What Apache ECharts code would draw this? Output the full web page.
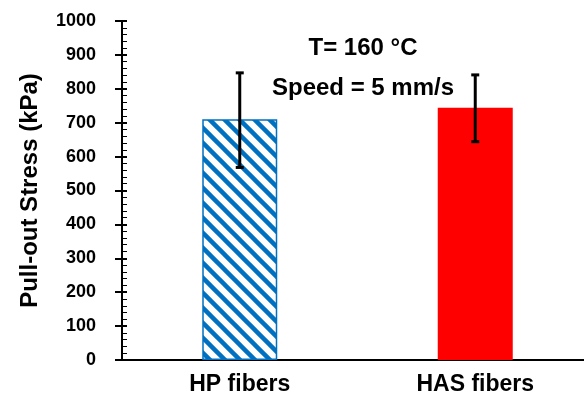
<!DOCTYPE html>
<html>
<head>
<meta charset="utf-8">
<script src="https://cdn.jsdelivr.net/npm/echarts@6/dist/echarts.min.js"></script>
<style>
  html, body { margin: 0; padding: 0; background: #fff; }
  #chart { width: 584px; height: 403px; }
</style>
</head>
<body>
<div id="chart"></div>
<script>
// data
const categories = ["HP fibers", "HAS fibers"];
const stressValues = [710, 744];
const errLow = [568, 644];
const errHigh = [847, 841];
const yTicks = [0, 1000, 100];
const noteLines = ["T= 160 °C", "Speed = 5 mm/s"];

const FONT = "'Liberation Sans', Arial, sans-serif";
const BLUE = "#0070C0";

// hatch for the HP bar (wide downward diagonal)
function makeHatch() {
  const c = document.createElement("canvas");
  c.width = 15;
  c.height = 15;
  const ctx = c.getContext("2d");
  ctx.fillStyle = "#fff";
  ctx.fillRect(0, 0, 15, 15);
  ctx.strokeStyle = BLUE;
  ctx.lineWidth = 4.5;
  for (let k = -1; k <= 1; k++) {
    ctx.beginPath();
    ctx.moveTo(k * 15 - 5, -5);
    ctx.lineTo(k * 15 + 20, 20);
    ctx.stroke();
  }
  return c;
}

const barData = stressValues.map(function (v, i) {
  if (i === 0) {
    return {
      value: v,
      itemStyle: {
        color: { image: makeHatch(), repeat: "repeat" },
        borderColor: BLUE,
        borderWidth: 1.5,
      },
    };
  }
  return { value: v, itemStyle: { color: "#FF0000" } };
});

const errData = categories.map(function (c, i) {
  return [i, errLow[i], errHigh[i]];
});

const myChart = echarts.init(document.getElementById("chart"));

let option = {
  backgroundColor: "#fff",
  animation: false,
  grid: { left: 122, width: 471, top: 21, bottom: 43, outerBoundsMode: "none", containLabel: false },
  xAxis: [
    {
      type: "category",
      data: categories,
      position: "bottom",
      axisLine: { lineStyle: { color: "#000", width: 2 } },
      axisTick: { alignWithLabel: true, length: 5, lineStyle: { color: "#000", width: 2 } },
      axisLabel: { color: "#000", fontFamily: FONT, fontWeight: "bold", fontSize: 23, margin: 13 },
    },
    {
      type: "category",
      data: categories,
      position: "top",
      axisLine: { lineStyle: { color: "#000", width: 2 } },
      axisTick: { show: false },
      axisLabel: { show: false },
    },
  ],
  yAxis: [
    {
      type: "value",
      min: yTicks[0],
      max: yTicks[1],
      interval: yTicks[2],
      name: "Pull-out Stress (kPa)",
      nameLocation: "middle",
      nameGap: 80,
      nameTextStyle: { color: "#000", fontFamily: FONT, fontWeight: "bold", fontSize: 24 },
      axisLine: { show: true, lineStyle: { color: "#000", width: 2 } },
      axisTick: { show: true, inside: false, length: 7, lineStyle: { color: "#000", width: 2 } },
      axisLabel: {
        color: "#000", fontFamily: FONT, fontWeight: "bold", fontSize: 18, margin: 26,
        formatter: function (v) { return String(v); },
      },
      splitLine: { show: false },
    },
    {
      type: "value",
      min: yTicks[0],
      max: yTicks[1],
      interval: yTicks[2],
      position: "left",
      axisLine: { show: true, lineStyle: { color: "#000", width: 2 } },
      axisTick: { show: true, inside: true, length: 5, lineStyle: { color: "#000", width: 2 } },
      minorTick: { show: true, splitNumber: 5, length: 5, lineStyle: { color: "#000", width: 1 } },
      axisLabel: { show: false },
      splitLine: { show: false },
    },
  ],
  graphic: noteLines.map(function (t, i) {
    return {
      type: "text",
      x: 363,
      y: 36 + i * 40,
      style: {
        text: t,
        align: "center",
        verticalAlign: "top",
        fill: "#000",
        font: "bold 24px " + FONT,
      },
      z: 100,
    };
  }),
  series: [
    {
      type: "bar",
      data: barData,
      barWidth: 75,
      xAxisIndex: 0,
      yAxisIndex: 0,
    },
    {
      type: "custom",
      xAxisIndex: 0,
      yAxisIndex: 0,
      data: errData,
      z: 10,
      renderItem: function (params, api) {
        const lo = api.coord([api.value(0), api.value(1)]);
        const hi = api.coord([api.value(0), api.value(2)]);
        const cap = 4;
        const st = { stroke: "#000", lineWidth: 3 };
        return {
          type: "group",
          children: [
            { type: "line", shape: { x1: lo[0], y1: lo[1], x2: hi[0], y2: hi[1] }, style: st },
            { type: "line", shape: { x1: hi[0] - cap, y1: hi[1], x2: hi[0] + cap, y2: hi[1] }, style: st },
            { type: "line", shape: { x1: lo[0] - cap, y1: lo[1], x2: lo[0] + cap, y2: lo[1] }, style: st },
          ],
        };
      },
    },
  ],
};

myChart.setOption(option, true);
</script>
</body>
</html>
